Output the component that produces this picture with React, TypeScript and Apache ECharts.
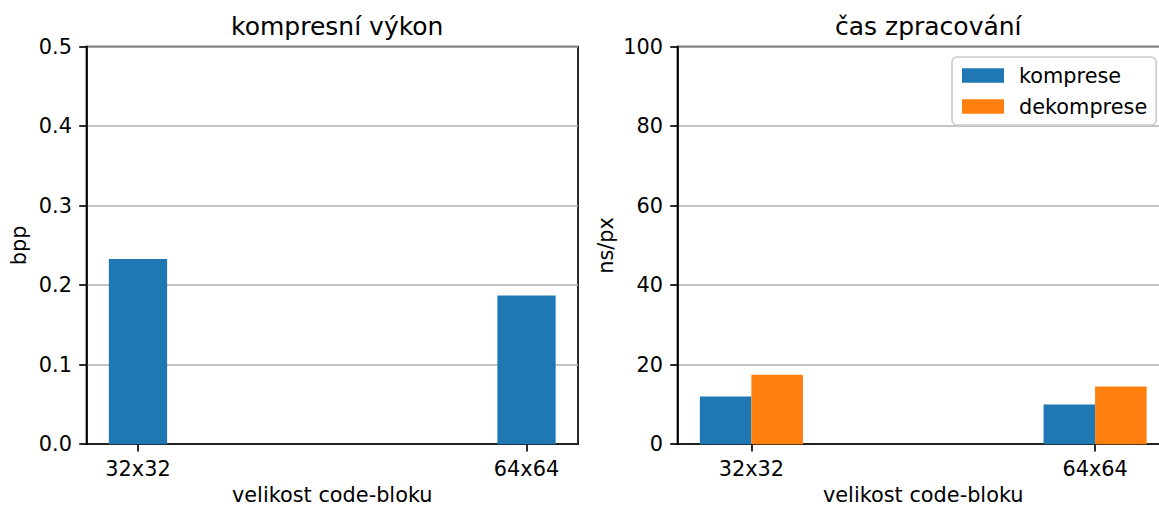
import React, { useEffect, useRef } from "react";
import * as echarts from "echarts";

const categories = ["32x32", "64x64"];
const bppValues = [0.233, 0.187];
const kompreseValues = [12.0, 10.0];
const dekompreseValues = [17.5, 14.5];
const leftYTicks = [0, 0.5, 0.1];
const rightYTicks = [0, 100, 20];

const PT = 150 / 72;
const FONT = "DejaVu Sans";
const BLUE = "#1f77b4";
const ORANGE = "#ff7f0e";

const LEFT_GRID = { left: 86.5, top: 46.7, width: 491.5, height: 397.5 };
const RIGHT_GRID = { left: 677.5, top: 46.7, width: 491.5, height: 397.5 };
const BAR = 0.15;

function xRange(halfExtent: number) {
  const lo = -halfExtent;
  const hi = categories.length - 1 + halfExtent;
  const pad = 0.05 * (hi - lo);
  return [lo - pad, hi + pad];
}

export default function App() {
  const ref = useRef<HTMLDivElement>(null);
  useEffect(() => {
    if (!ref.current) return;
    const chart = echarts.init(ref.current, null, { renderer: "svg" });
    const lr = xRange(BAR / 2);
    const rr = xRange(BAR);
    const lUnit = LEFT_GRID.width / (lr[1] - lr[0]);
    const rUnit = RIGHT_GRID.width / (rr[1] - rr[0]);
    const tickFs = 10 * PT;
    const lw = 0.8 * PT;
    const tickLen = 3.5 * PT;
    const catIdx = categories.map((_, i) => i);

    const xAxisBase = (range: number[]) => ({
      type: "value",
      min: range[0],
      max: range[1],
      axisLine: { show: true, onZero: false, lineStyle: { color: "#000", width: lw } },
      axisTick: { show: true, customValues: catIdx, length: tickLen, lineStyle: { color: "#000", width: lw } },
      axisLabel: {
        show: true,
        customValues: catIdx,
        margin: tickLen * 2,
        fontSize: tickFs,
        fontFamily: FONT,
        color: "#000",
        formatter: (v: number) => categories[Math.round(v)] ?? "",
      },
      splitLine: { show: false },
      name: "velikost code-bloku",
      nameLocation: "middle",
      nameGap: 39,
      nameTextStyle: { fontSize: tickFs, fontFamily: FONT, color: "#000" },
    });

    const yAxisBase = (ticks: number[], name: string, gap: number, dec: number) => ({
      type: "value",
      min: ticks[0],
      max: ticks[1],
      interval: ticks[2],
      axisLine: { show: true, onZero: false, lineStyle: { color: "#000", width: lw } },
      axisTick: { show: true, length: tickLen, lineStyle: { color: "#000", width: lw } },
      axisLabel: {
        margin: tickLen * 2,
        fontSize: tickFs,
        fontFamily: FONT,
        color: "#000",
        formatter: (v: number) => v.toFixed(dec),
      },
      splitLine: { show: true, lineStyle: { color: "#b0b0b0", width: lw } },
      name,
      nameLocation: "middle",
      nameGap: gap,
      nameTextStyle: { fontSize: tickFs, fontFamily: FONT, color: "#000" },
    });

    chart.setOption({
      animation: false,
      backgroundColor: "#fff",
      textStyle: { fontFamily: FONT },
      title: [
        {
          text: "kompresní výkon",
          left: LEFT_GRID.left + LEFT_GRID.width / 2,
          top: 9,
          textAlign: "center",
          textStyle: { fontSize: 12 * PT, fontWeight: "normal", fontFamily: FONT, color: "#000" },
        },
        {
          text: "čas zpracování",
          left: RIGHT_GRID.left + RIGHT_GRID.width / 2,
          top: 9,
          textAlign: "center",
          textStyle: { fontSize: 12 * PT, fontWeight: "normal", fontFamily: FONT, color: "#000" },
        },
      ],
      legend: {
        data: ["komprese", "dekomprese"],
        orient: "vertical",
        left: 952,
        top: 57,
        backgroundColor: "rgba(255,255,255,0.8)",
        borderColor: "#cccccc",
        borderWidth: lw,
        borderRadius: 5,
        padding: [8, 9, 8, 10],
        itemWidth: 42,
        itemHeight: 14.6,
        itemGap: 10,
        icon: "rect",
        textStyle: { fontSize: tickFs, fontFamily: FONT, color: "#000", padding: [0, 0, 0, 10] },
      },
      grid: [
        { ...LEFT_GRID, show: true, borderColor: "#000", borderWidth: lw, containLabel: false, outerBoundsMode: "none" },
        { ...RIGHT_GRID, show: true, borderColor: "#000", borderWidth: lw, containLabel: false, outerBoundsMode: "none" },
      ],
      xAxis: [
        { ...xAxisBase(lr), gridIndex: 0 },
        { ...xAxisBase(rr), gridIndex: 1 },
      ],
      yAxis: [
        { ...yAxisBase(leftYTicks, "bpp", 57, 1), gridIndex: 0 },
        { ...yAxisBase(rightYTicks, "ns/px", 61, 0), gridIndex: 1 },
      ],
      series: [
        {
          name: "bpp",
          type: "bar",
          xAxisIndex: 0,
          yAxisIndex: 0,
          barWidth: BAR * lUnit,
          itemStyle: { color: BLUE },
          data: bppValues.map((v, i) => [i, v]),
        },
        {
          name: "komprese",
          type: "bar",
          xAxisIndex: 1,
          yAxisIndex: 1,
          barWidth: BAR * rUnit,
          barGap: "0%",
          itemStyle: { color: BLUE },
          data: kompreseValues.map((v, i) => [i, v]),
        },
        {
          name: "dekomprese",
          type: "bar",
          xAxisIndex: 1,
          yAxisIndex: 1,
          barWidth: BAR * rUnit,
          barGap: "0%",
          itemStyle: { color: ORANGE },
          data: dekompreseValues.map((v, i) => [i, v]),
        },
      ],
    });
    return () => chart.dispose();
  }, []);
  return (
    <div
      ref={ref}
      style={{ position: "absolute", left: 0, top: 0, width: 1159, height: 506 }}
    />
  );
}
